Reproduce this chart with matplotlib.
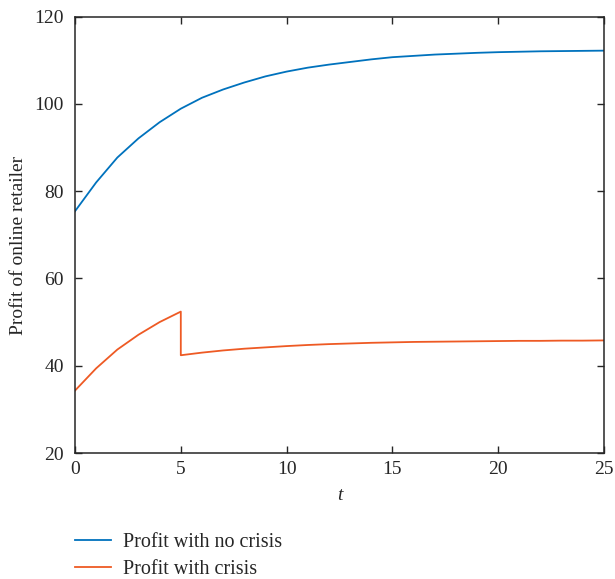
import numpy as np
import matplotlib.pyplot as plt

plt.rcParams['font.family'] = ['Liberation Serif', 'DejaVu Serif']

# time points (t = 5 repeated for the jump of the crisis curve)
t_no = list(range(0, 26))
profit_no_crisis = [75.4, 82.0, 87.7, 92.1, 95.8, 98.9, 101.4, 103.3, 104.9, 106.3,
                    107.4, 108.3, 109.0, 109.6, 110.2, 110.7, 111.0, 111.3, 111.5, 111.7,
                    111.85, 111.95, 112.05, 112.1, 112.15, 112.2]

t_cr = [0, 1, 2, 3, 4, 5, 5, 6, 7, 8, 9, 10, 11, 12, 13, 14, 15, 16, 17, 18, 19, 20,
        21, 22, 23, 24, 25]
profit_crisis = [34.3, 39.4, 43.7, 47.1, 50.0, 52.4, 42.4, 43.0, 43.5, 43.9, 44.2,
                 44.5, 44.75, 44.95, 45.1, 45.25, 45.35, 45.45, 45.5, 45.55, 45.6,
                 45.65, 45.7, 45.7, 45.75, 45.75, 45.8]

fig = plt.figure(figsize=(6.15, 5.79), dpi=100)
ax = fig.add_axes([75/615, 1-453/579, (604-75)/615, (453-16.6)/579])

ax.plot(t_no, profit_no_crisis, color='#0072BD', lw=1.3, label='Profit with no crisis')
ax.plot(t_cr, profit_crisis, color='#EE5A24', lw=1.3, label='Profit with crisis')

ax.set_xlim(0, 25)
ax.set_ylim(20, 120)
ax.set_xticks([0, 5, 10, 15, 20, 25])
ax.set_yticks([20, 40, 60, 80, 100, 120])
ax.tick_params(direction='in', top=True, right=True, length=5, width=1,
               color='#262626', labelsize=14, labelcolor='#262626')
ax.tick_params(axis='y', pad=8)
ax.tick_params(axis='x', pad=6)
for s in ax.spines.values():
    s.set_color('#262626')
    s.set_linewidth(1.1)

ax.set_xlabel('t', fontsize=14, fontstyle='italic', color='#262626', labelpad=6)
ax.set_ylabel('Profit of online retailer', fontsize=14, color='#262626')
ax.yaxis.set_label_coords(-0.09, 0.475)

fig.legend(loc='upper left', bbox_to_anchor=(75/615, 1-533/579), frameon=False,
           fontsize=14.5, borderpad=0, borderaxespad=0, handlelength=1.8,
           handletextpad=0.6, labelspacing=0.38, labelcolor='#262626')

fig.savefig('out.png', dpi=100)
